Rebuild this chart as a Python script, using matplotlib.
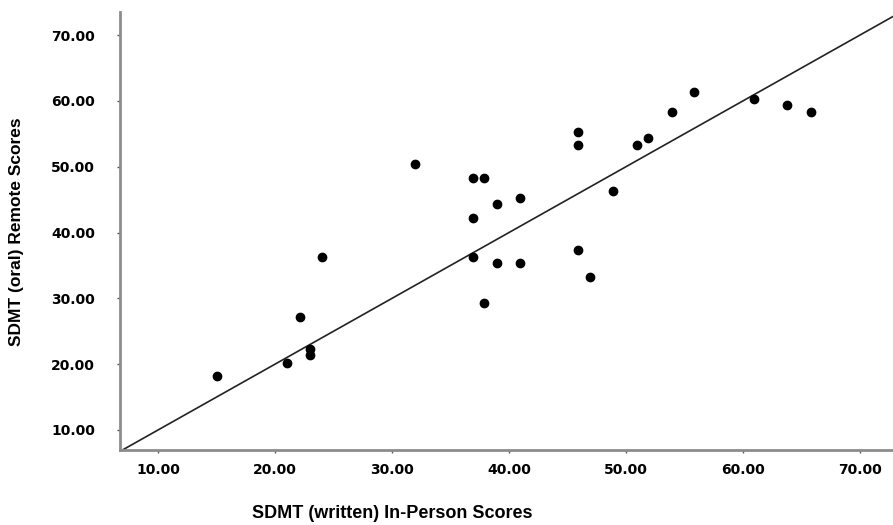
import matplotlib
matplotlib.use("Agg")
import matplotlib.pyplot as plt

# -----------------------------
# SDMT written (in-person) vs oral (remote)
# -----------------------------
in_person = [15.0, 21.0, 22.1, 23.0, 23.0, 24.0, 32.0, 36.9, 37.9, 39.0,
             40.9, 36.9, 36.9, 39.0, 40.9, 37.9, 45.9, 45.9, 45.9, 46.9,
             48.9, 50.9, 51.9, 53.9, 55.8, 60.9, 63.8, 65.8]
remote = [18.2, 20.2, 27.2, 22.3, 21.4, 36.3, 50.4, 48.3, 48.3, 44.3,
          45.2, 42.2, 36.3, 35.4, 35.4, 29.3, 55.3, 53.3, 37.3, 33.2,
          46.3, 53.3, 54.4, 58.3, 61.3, 60.3, 59.4, 58.3]

# reference line
line_intercept = 0.0
line_slope = 1.0

ticks = [10, 20, 30, 40, 50, 60, 70]
tick_labels = ["%.2f" % t for t in ticks]

fig = plt.figure(figsize=(8.93, 5.25), dpi=100)
ax = fig.add_axes([120 / 893, 75 / 525, 773 / 893, 438 / 525])

ax.scatter(in_person, remote, s=36, color="black", zorder=3)
ax.axline((0, line_intercept), slope=line_slope, color="#222222", lw=1.2)

ax.set_xlim(6.75, 72.82)
ax.set_ylim(6.96, 73.5)
ax.set_xticks(ticks)
ax.set_xticklabels(tick_labels)
ax.set_yticks(ticks)
ax.set_yticklabels(tick_labels)

for lab in ax.get_xticklabels() + ax.get_yticklabels():
    lab.set_fontweight("bold")
    lab.set_fontsize(10)
    lab.set_family("DejaVu Sans")

ax.tick_params(axis="both", length=2, width=1, color="#555555")
ax.tick_params(axis="x", pad=7)
ax.tick_params(axis="y", pad=16)

for side in ["top", "right"]:
    ax.spines[side].set_visible(False)
for side in ["left", "bottom"]:
    ax.spines[side].set_color("#8c8c8c")
    ax.spines[side].set_linewidth(2)

fig.text(392 / 893, 1 - 514 / 525, "SDMT (written) In-Person Scores",
         ha="center", va="center", fontsize=13, fontweight="bold",
         family="Liberation Sans")
fig.text(17 / 893, 1 - 232 / 525, "SDMT (oral) Remote Scores",
         ha="center", va="center", rotation=90, fontsize=12.5,
         fontweight="bold", family="Liberation Sans")

fig.savefig("out.png", dpi=100)
